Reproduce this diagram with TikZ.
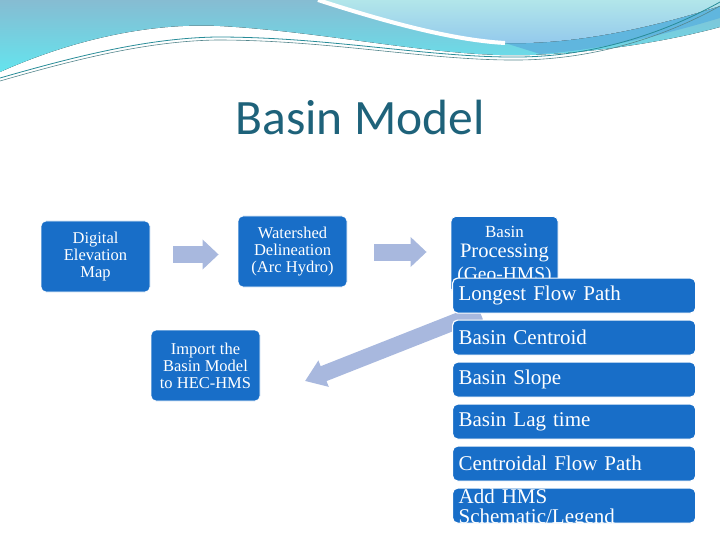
\documentclass[tikz,border=0pt]{standalone}
\usepackage{fontspec}
\setmainfont{Liberation Serif}
\newfontfamily\titlefont{Carlito}
\usetikzlibrary{arrows.meta,positioning}
\definecolor{boxblue}{RGB}{24,110,200}
\definecolor{pale}{RGB}{168,184,222}
\definecolor{titleteal}{RGB}{30,98,122}
\definecolor{bandtop}{RGB}{134,188,210}
\definecolor{bandbot}{RGB}{100,228,238}
\definecolor{aquatop}{RGB}{178,230,234}
\definecolor{aquabot}{RGB}{146,200,236}
\definecolor{stripe}{RGB}{96,182,222}
\definecolor{waveline}{RGB}{40,140,152}

\begin{document}
\begin{tikzpicture}[x=1pt,y=-1pt,node distance=5.8pt,
box/.style={draw=white,line width=.8pt,fill=boxblue,rounded corners=5pt,text=white,minimum width=109pt,minimum height=71pt,align=center,inner sep=0pt,font=\fontsize{16.5}{17}\selectfont},
item/.style={draw=white,line width=1.2pt,fill=boxblue,rounded corners=5pt,text=white,minimum width=243pt,minimum height=35pt,text width=231pt,align=left,inner xsep=6pt,inner ysep=0pt,font=\fontsize{21}{20}\selectfont},
fat/.style={line width=17pt,draw=pale,-{Triangle[width=29pt,length=16pt]}}]
\useasboundingbox (0,0) rectangle (720,540);
% waves at the top
\fill[top color=bandtop,bottom color=bandbot] (0,0) -- (0,72) .. controls (60,45) and (140,22) .. (220,26) .. controls (330,32) and (440,58) .. (530,55) .. controls (610,52) and (680,38) .. (720,27) -- (720,0) -- cycle;
\fill[stripe] (505,43) .. controls (580,45) and (660,25) .. (720,6) -- (720,18) .. controls (660,36) and (600,50) .. (540,54) -- cycle;
\fill[top color=aquatop,bottom color=aquabot] (318,0) .. controls (380,20) and (450,40) .. (505,43) .. controls (580,45) and (660,25) .. (720,6) -- (720,0) -- cycle;
\draw[white,line width=4pt] (318,0) .. controls (380,20) and (450,40) .. (505,43);
\draw[waveline,line width=.8pt] (0,78) .. controls (80,55) and (150,38) .. (217,37) .. controls (330,37) and (430,58) .. (520,57) .. controls (600,56) and (670,30) .. (720,2);
\draw[waveline!50!gray,line width=.6pt] (0,81) .. controls (80,58) and (150,41) .. (217,40) .. controls (330,40) and (430,61) .. (520,60) .. controls (600,59) and (670,34) .. (720,6);

\node[font=\titlefont\fontsize{49.5}{50}\selectfont,text=titleteal] (title) at (360,117) {Basin Model};

% arrow back to HEC-HMS, under the list
\coordinate (tail) at (480,312);
\coordinate (tip) at (305,381);
\draw[fat,line width=16pt,-{Triangle[width=27pt,length=20pt]}] (tail) -- (tip);

\node[box] (dem) at (95.5,256.5) {Digital\\Elevation\\Map};
\node[box] (ws) at (292.5,251.5) {Watershed\\Delineation\\(Arc Hydro)};
\node[box] (import) at (205.5,365.5) {Import the\\Basin Model\\to HEC-HMS};
\node[box,anchor=north,minimum width=107pt,inner ysep=9.4pt,font=\fontsize{17}{20}\selectfont] (bp) at (504.5,216) {Basin\\{\fontsize{20.5}{20}\selectfont Processing}\\[3pt]{\fontsize{19.5}{20}\selectfont (Geo-HMS)}};

\node[item,anchor=north west] (lfp) at (452,277.5) {Longest Flow Path};
\node[item,below=of lfp] (centroid) {Basin Centroid};
\node[item,below=of centroid] (slope) {Basin Slope};
\node[item,below=of slope] (lag) {Basin Lag time};
\node[item,below=of lag] (cfp) {Centroidal Flow Path};
\node[item,below=of cfp,path picture={\node[anchor=center,text=white,text width=231pt,align=left,inner sep=0pt,font=\fontsize{21}{20}\selectfont] (hmstext) at ([shift={(0,2.5)}]path picture bounding box.center) {Add HMS\\Schematic/Legend};}] (hms) {};

\draw[fat,shorten <=23pt,shorten >=19pt] ([yshift=2pt]dem.east) -- ([yshift=2pt]dem.east -| ws.west);
\draw[fat,shorten <=27pt,shorten >=24pt] ([yshift=-.5pt]ws.east) -- ([yshift=-.5pt]ws.east -| bp.west);
\end{tikzpicture}
\end{document}
